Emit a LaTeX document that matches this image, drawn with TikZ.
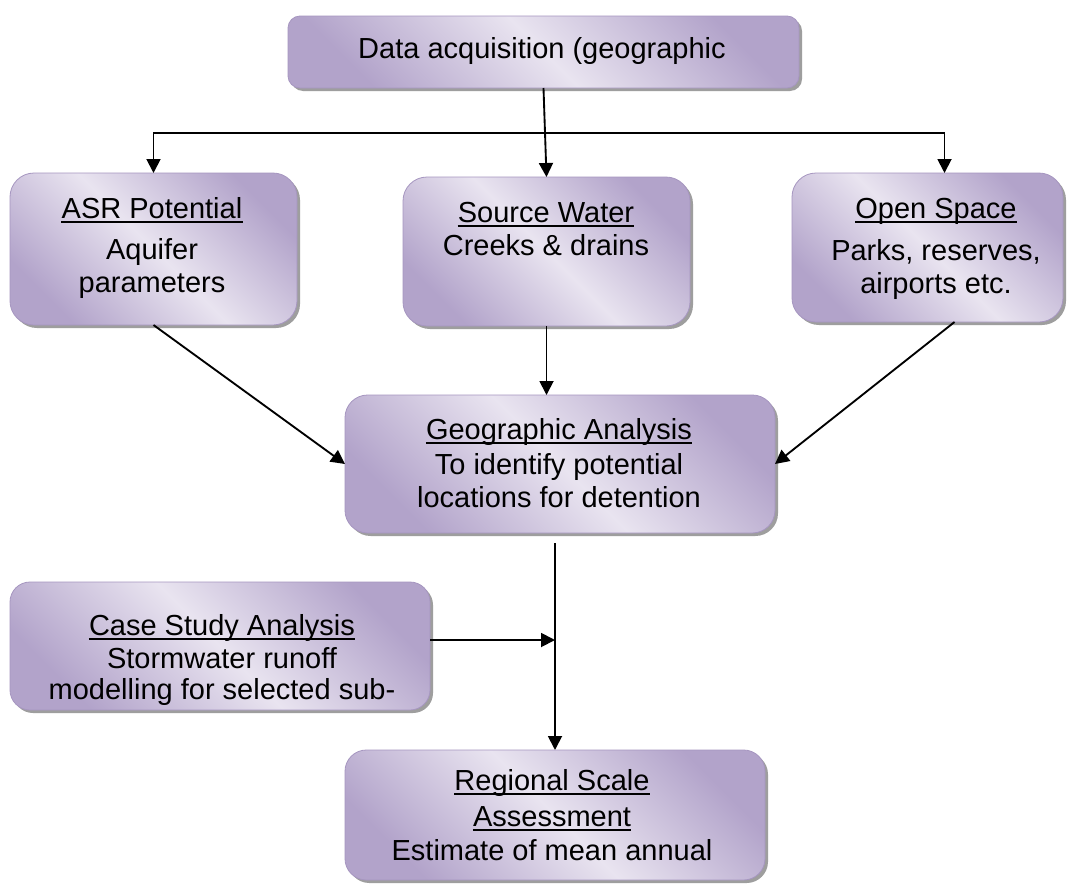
\documentclass[tikz,border=0pt]{standalone}
\usepackage{fontspec}
\setmainfont{Liberation Sans}
\usetikzlibrary{arrows.meta,shadows,fit,calc}
\definecolor{lavlight}{HTML}{E9E4F0}
\definecolor{lavdark}{HTML}{B2A3CA}
\definecolor{lavedge}{HTML}{A696C0}
\definecolor{shadowgray}{HTML}{9E9E9E}
\tikzset{
  box/.style={draw=lavedge, line width=0.6pt, top color=lavdark, bottom color=lavdark,
    middle color=lavlight, shading angle=-45, inner sep=0pt, outer sep=0pt,
    drop shadow={shadow xshift=2.25pt, shadow yshift=-2.25pt, fill=shadowgray, opacity=1}},
  txt/.style={anchor=base, inner sep=0pt, font=\fontsize{21.75pt}{24pt}\selectfont, text=black},
  arr/.style={draw=black, line width=1.4pt, -{Triangle[width=10.5pt,length=10.5pt]}},
  ul/.style={draw=black, line width=1.4pt},
}
\begin{document}
\begin{tikzpicture}[x=0.75pt, y=-0.75pt]
\fill[white] (0,0) rectangle (1068,889);
\useasboundingbox (0,0) rectangle (1068,889);

% boxes
\node[box, rounded corners=9pt, fit={(288,16) (799,88)}] (top) {};
\node[box, rounded corners=18pt, fit={(10,173) (297,325)}] (asr) {};
\node[box, rounded corners=18pt, fit={(403,177) (690,326)}] (src) {};
\node[box, rounded corners=18pt, fit={(792,173) (1063,322)}] (open) {};
\node[box, rounded corners=17pt, fit={(345,395) (775,533)}] (geo) {};
\node[box, rounded corners=15pt, fit={(10,582) (430,710)}] (case) {};
\node[box, rounded corners=16pt, fit={(345,750) (765,880)}] (reg) {};

% texts
\node[txt] (t1) at (542,58) {Data acquisition (geographic};

\node[txt] (a1) at (152,218) {ASR Potential};
\node[txt] (a2) at (152,259) {Aquifer};
\node[txt] (a3) at (152,292) {parameters};

\node[txt] (s1) at (546,222) {Source Water};
\node[txt] (s2) at (546,255) {Creeks \& drains};

\node[txt] (o1) at (936,218) {Open Space};
\node[txt] (o2) at (936,260) {Parks, reserves,};
\node[txt] (o3) at (936,293) {airports etc.};

\node[txt] (g1) at (559,439) {Geographic Analysis};
\node[txt] (g2) at (559,474) {To identify potential};
\node[txt] (g3) at (559,507) {locations for detention};

\node[txt] (c1) at (222,635) {Case Study Analysis};
\node[txt] (c2) at (222,668) {Stormwater runoff};
\node[txt] (c3) at (222,699) {modelling for selected sub-};

\node[txt] (r1) at (552,790) {Regional Scale};
\node[txt] (r2) at (552,826) {Assessment};
\node[txt] (r3) at (552,860) {Estimate of mean annual};

% underlines
\foreach \n in {a1,s1,o1,g1,c1,r1,r2}{
  \draw[ul] ([yshift=-3pt]\n.base west) -- ([yshift=-3pt]\n.base east);
}

% connectors
\coordinate (j) at (544,133);
\draw[arr] (top.south) -- (src.north);
\draw[arr] (j) -| (asr.north);
\draw[arr] (j) -| ([xshift=12.75pt]open.north);
\draw[arr] (asr.south) -- (geo.west);
\draw[arr] ([xshift=20.25pt]open.south) -- (geo.east);
\draw[arr] (src.south) -- (src.south |- geo.north);
\draw[arr] ([xshift=-3.75pt,yshift=-7.5pt]geo.south) -- (reg.north);
\coordinate (m) at (555,640);
\draw[arr] (case.east |- m) -- (m);
\end{tikzpicture}
\end{document}
